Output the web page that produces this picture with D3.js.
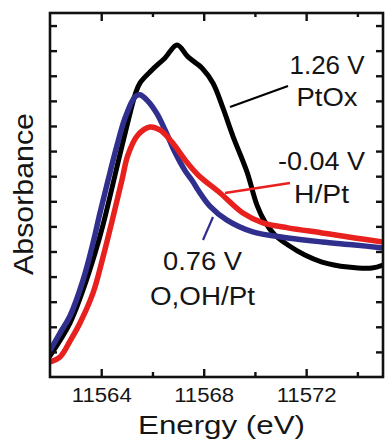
<!DOCTYPE html>
<html>
<head>
<meta charset="utf-8">
<script src="https://cdn.jsdelivr.net/npm/d3@7"></script>
<style>
  html, body { margin: 0; padding: 0; background: #ffffff; }
  svg { display: block; }
  text { font-family: "Liberation Sans", Arial, Helvetica, sans-serif; fill: #151515; }
</style>
</head>
<body>
<svg id="chart" width="385" height="441"></svg>
<script>
// ---- data ----
// 1.26 V (PtOx) - black
const ptoxEnergy = [11562.00, 11562.78, 11563.29, 11563.76, 11564.07, 11564.42, 11564.77, 11565.08, 11565.32, 11565.51, 11565.98, 11566.49, 11566.96, 11567.39, 11567.93, 11568.36, 11568.75, 11569.14, 11569.69, 11570.08, 11570.39, 11570.78, 11571.29, 11571.95, 11572.62, 11573.63, 11574.57, 11575.00];
const ptoxAbs    = [0.084, 0.215, 0.347, 0.494, 0.606, 0.753, 0.904, 1.032, 1.124, 1.171, 1.223, 1.271, 1.323, 1.275, 1.231, 1.171, 1.072, 0.960, 0.817, 0.685, 0.618, 0.566, 0.526, 0.486, 0.458, 0.438, 0.434, 0.446];
// 0.76 V (O,OH/Pt) - blue
const oohEnergy = [11562.00, 11562.39, 11562.78, 11563.29, 11563.68, 11563.95, 11564.26, 11564.62, 11564.93, 11565.32, 11565.51, 11565.83, 11566.18, 11566.49, 11566.88, 11567.27, 11567.58, 11567.78, 11568.25, 11568.91, 11569.92, 11571.29, 11572.62, 11573.90, 11575.00];
const oohAbs    = [0.105, 0.175, 0.243, 0.386, 0.534, 0.653, 0.781, 0.924, 1.032, 1.116, 1.124, 1.098, 1.048, 0.984, 0.895, 0.822, 0.778, 0.745, 0.680, 0.625, 0.578, 0.554, 0.538, 0.526, 0.514];
// -0.04 V (H/Pt) - red
const hptEnergy = [11562.00, 11562.39, 11562.78, 11563.17, 11563.68, 11564.07, 11564.46, 11564.81, 11565.04, 11565.43, 11565.90, 11566.29, 11566.76, 11567.27, 11567.78, 11568.64, 11569.53, 11570.31, 11571.29, 11572.62, 11573.90, 11575.00];
const hptAbs    = [0.060, 0.080, 0.143, 0.215, 0.335, 0.478, 0.637, 0.785, 0.884, 0.964, 0.996, 0.984, 0.936, 0.865, 0.805, 0.733, 0.653, 0.614, 0.594, 0.574, 0.554, 0.538];

const xMajorTicks = [11564, 11568, 11572];
const xMinorTicks = [11566, 11570, 11574];
const yTicks = [0.1, 0.2, 0.3, 0.4, 0.5, 0.6, 0.7, 0.8, 0.9, 1.0, 1.1, 1.2, 1.3, 1.4];
const xDomain = [11562, 11575];
const yDomain = [0, 1.45];

const labelLines = [
  ["1.26 V", "PtOx"],
  ["-0.04 V", "H/Pt"],
  ["0.76 V", "O,OH/Pt"]
];
const xTitle = "Energy (eV)";
const yTitle = "Absorbance";

// ---- layout ----
const svg = d3.select("#chart");
const L = 50, R = 383, T = 13, B = 377;
const x = d3.scaleLinear().domain(xDomain).range([L, R]);
const y = d3.scaleLinear().domain(yDomain).range([B, T]);

const series = [
  { e: ptoxEnergy, a: ptoxAbs, color: "#000000", w: 5 },
  { e: oohEnergy, a: oohAbs, color: "#302f8e", w: 5.5 },
  { e: hptEnergy, a: hptAbs, color: "#e8201e", w: 5.5 }
];

const line = d3.line()
  .x(d => x(d[0]))
  .y(d => y(d[1]))
  .curve(d3.curveCatmullRom.alpha(0.5));

svg.append("clipPath").attr("id", "plotclip")
  .append("rect").attr("x", L).attr("y", T).attr("width", R - L).attr("height", B - T);

const plot = svg.append("g").attr("clip-path", "url(#plotclip)");
series.forEach(s => {
  plot.append("path")
    .datum(s.e.map((v, i) => [v, s.a[i]]))
    .attr("d", line)
    .attr("fill", "none")
    .attr("stroke", s.color)
    .attr("stroke-width", s.w)
    .attr("stroke-linejoin", "round")
    .attr("stroke-linecap", "round");
});

// ---- axes ----
function styleAxis(g) {
  g.select(".domain").remove();
  g.selectAll(".tick line").attr("stroke", "#111").attr("stroke-width", 2.4);
}

svg.append("g").attr("transform", `translate(0,${B})`)
  .call(d3.axisBottom(x).tickValues(xMajorTicks).tickSize(-8).tickSizeOuter(0).tickPadding(11)
    .tickFormat(d3.format("d")))
  .call(styleAxis)
  .call(g => g.selectAll(".tick text")
    .attr("font-size", 20).attr("textLength", 60).attr("lengthAdjust", "spacingAndGlyphs")
    .attr("fill", "#151515").attr("font-family", "Liberation Sans, Arial, sans-serif"));

svg.append("g").attr("transform", `translate(0,${B})`)
  .call(d3.axisBottom(x).tickValues(xMinorTicks).tickSize(-5).tickSizeOuter(0).tickFormat(""))
  .call(styleAxis);

svg.append("g").attr("transform", `translate(0,${T})`)
  .call(d3.axisTop(x).tickValues(xMajorTicks).tickSize(-8).tickSizeOuter(0).tickFormat(""))
  .call(styleAxis);
svg.append("g").attr("transform", `translate(0,${T})`)
  .call(d3.axisTop(x).tickValues(xMinorTicks).tickSize(-4).tickSizeOuter(0).tickFormat(""))
  .call(styleAxis);

svg.append("g").attr("transform", `translate(${L},0)`)
  .call(d3.axisLeft(y).tickValues(yTicks).tickSize(-7).tickSizeOuter(0).tickFormat(""))
  .call(styleAxis);
svg.append("g").attr("transform", `translate(${R},0)`)
  .call(d3.axisRight(y).tickValues(yTicks).tickSize(-7).tickSizeOuter(0).tickFormat(""))
  .call(styleAxis);

svg.append("rect")
  .attr("x", L).attr("y", T).attr("width", R - L).attr("height", B - T)
  .attr("fill", "none").attr("stroke", "#111").attr("stroke-width", 2.6);

// ---- titles ----
svg.append("text")
  .attr("x", 221.5).attr("y", 434)
  .attr("text-anchor", "middle").attr("font-size", 26)
  .attr("textLength", 167).attr("lengthAdjust", "spacingAndGlyphs")
  .text(xTitle);

svg.append("text")
  .attr("transform", "translate(33,194) rotate(-90)")
  .attr("text-anchor", "middle").attr("font-size", 28)
  .attr("textLength", 162).attr("lengthAdjust", "spacingAndGlyphs")
  .text(yTitle);

// ---- annotations ----
const ann = [
  { lines: labelLines[0], cx: 327, y0: 74, y1: 106, len: [75, 61], color: "#000000", lead: [[230, 107], [288, 86]], lw: 2.2 },
  { lines: labelLines[1], cx: 321.5, y0: 170, y1: 203, len: [87, 55], color: "#e8201e", lead: [[225, 193], [290, 183]], lw: 2.4 },
  { lines: labelLines[2], cx: 202.5, y0: 270, y1: 305, len: [79, 105], color: "#302f8e", lead: [[213, 217], [203, 240]], lw: 2.2 }
];
ann.forEach(a => {
  svg.append("line")
    .attr("x1", a.lead[0][0]).attr("y1", a.lead[0][1])
    .attr("x2", a.lead[1][0]).attr("y2", a.lead[1][1])
    .attr("stroke", a.color).attr("stroke-width", a.lw);
  [a.y0, a.y1].forEach((yy, i) => {
    svg.append("text")
      .attr("x", a.cx).attr("y", yy)
      .attr("text-anchor", "middle").attr("font-size", 25)
      .attr("textLength", a.len[i]).attr("lengthAdjust", "spacingAndGlyphs")
      .text(a.lines[i]);
  });
});
</script>
</body>
</html>
